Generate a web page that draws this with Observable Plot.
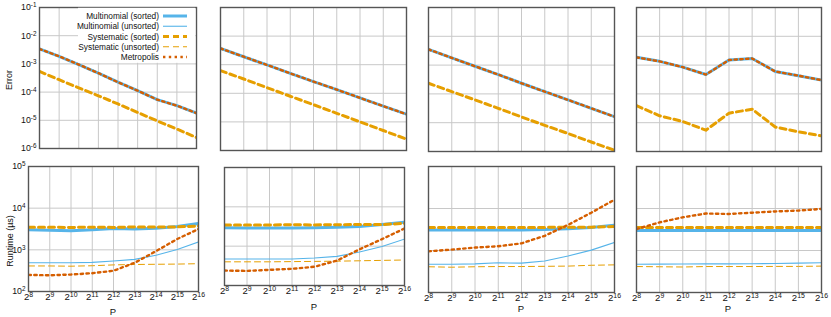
<!DOCTYPE html>
<html><head><meta charset="utf-8">
<script src="https://cdn.jsdelivr.net/npm/d3@7"></script>
<script src="https://cdn.jsdelivr.net/npm/@observablehq/plot@0.6"></script>
<style>
body{margin:0;background:#fff;}
#root{position:relative;width:831px;height:317px;overflow:hidden;font-family:"Liberation Sans",Arial,sans-serif;}
.panel{position:absolute;}
.panel svg{background:transparent;max-width:none;overflow:visible;}
#overlay{position:absolute;left:0;top:0;pointer-events:none;}
</style></head><body><div id="root"></div>
<script>
// ---------- data ----------
const P = [256, 512, 1024, 2048, 4096, 8192, 16384, 32768, 65536];
const xTickLabels = ["2^8","2^9","2^10","2^11","2^12","2^13","2^14","2^15","2^16"];
const seriesNames = ["Multinomial (sorted)","Multinomial (unsorted)","Systematic (sorted)","Systematic (unsorted)","Metropolis"];
const errorTicks = [1e-6, 1e-5, 1e-4, 1e-3, 1e-2, 1e-1];
const errorTickLabels = ["10^-6","10^-5","10^-4","10^-3","10^-2","10^-1"];
const runtimeTicks = [1e2, 1e3, 1e4, 1e5];
const runtimeTickLabels = ["10^2","10^3","10^4","10^5"];

// Error (top row), one array per panel
const errorMultinomial = [
  [3.4e-3, 1.86e-3, 9.5e-4, 4.7e-4, 2.24e-4, 1.12e-4, 5.4e-5, 3.3e-5, 1.8e-5],
  [3.7e-3, 1.9e-3, 9.8e-4, 5.0e-4, 2.57e-4, 1.35e-4, 6.9e-5, 3.55e-5, 1.86e-5],
  [3.5e-3, 1.78e-3, 9.1e-4, 4.7e-4, 2.34e-4, 1.2e-4, 6.2e-5, 3.16e-5, 1.62e-5],
  [1.86e-3, 1.35e-3, 8.5e-4, 4.7e-4, 1.5e-3, 1.7e-3, 6.0e-4, 4.3e-4, 3.0e-4]
];
const errorMetropolis = [
  [3.4e-3, 1.86e-3, 9.5e-4, 4.7e-4, 2.24e-4, 1.12e-4, 5.4e-5, 3.3e-5, 1.8e-5],
  [3.7e-3, 1.9e-3, 9.8e-4, 5.0e-4, 2.57e-4, 1.35e-4, 6.9e-5, 3.55e-5, 1.86e-5],
  [3.5e-3, 1.78e-3, 9.1e-4, 4.7e-4, 2.34e-4, 1.2e-4, 6.2e-5, 3.16e-5, 1.62e-5],
  [1.86e-3, 1.35e-3, 8.5e-4, 4.7e-4, 1.5e-3, 1.7e-3, 6.0e-4, 4.3e-4, 3.0e-4]
];
const errorSystematic = [
  [5.4e-4, 2.75e-4, 1.41e-4, 7.4e-5, 3.8e-5, 1.9e-5, 9.5e-6, 4.9e-6, 2.45e-6],
  [6.2e-4, 3.16e-4, 1.58e-4, 7.9e-5, 4.0e-5, 2.0e-5, 1.0e-5, 5.0e-6, 2.5e-6],
  [2.34e-4, 1.2e-4, 6.2e-5, 3.16e-5, 1.58e-5, 8.1e-6, 4.2e-6, 2.14e-6, 1.1e-6],
  [3.9e-5, 1.74e-5, 1.1e-5, 5.5e-6, 2.14e-5, 2.95e-5, 7.1e-6, 4.8e-6, 3.5e-6]
];

// Runtime in µs (bottom row), one array per panel
const runtimeMultinomialSorted = [
  [3020, 2950, 2880, 3020, 3240, 3160, 3310, 3630, 4270],
  [2950, 2880, 2880, 2880, 2950, 3020, 3160, 3550, 4070],
  [3090, 3090, 3090, 3090, 3090, 3160, 3310, 3550, 3980],
  [3000, 3000, 3000, 3000, 3000, 3000, 3000, 3000, 3000]
];
const runtimeMultinomialUnsorted = [
  [490, 490, 490, 500, 540, 590, 740, 1020, 1550],
  [470, 470, 470, 470, 500, 550, 710, 980, 1510],
  [470, 470, 480, 510, 500, 560, 740, 1020, 1550],
  [470, 475, 478, 480, 480, 485, 490, 500, 510]
];
const runtimeSystematicSorted = [
  [3470, 3470, 3450, 3500, 3450, 3550, 3550, 3550, 3720],
  [3470, 3470, 3470, 3500, 3470, 3500, 3550, 3550, 3800],
  [3550, 3550, 3550, 3550, 3550, 3550, 3600, 3600, 3720],
  [3550, 3550, 3550, 3550, 3550, 3550, 3550, 3550, 3550]
];
const runtimeSystematicUnsorted = [
  [410, 410, 405, 415, 435, 445, 450, 455, 465],
  [400, 400, 400, 405, 410, 415, 425, 435, 445],
  [410, 400, 410, 415, 415, 420, 425, 445, 455],
  [415, 410, 405, 415, 415, 415, 418, 418, 425]
];
const runtimeMetropolis = [
  [250, 245, 255, 275, 315, 490, 930, 1820, 3160],
  [240, 235, 250, 265, 300, 430, 830, 1510, 2820],
  [955, 1050, 1175, 1260, 1480, 2240, 4070, 7940, 16200],
  [3240, 4680, 6170, 7590, 7410, 7940, 8510, 8910, 9770]
];

// ---------- styles & layout ----------
const seriesStyles = [
  {stroke: "#56B4E9", strokeWidth: 3, dash: null},
  {stroke: "#56B4E9", strokeWidth: 1.1, dash: null},
  {stroke: "#E69F00", strokeWidth: 3, dash: "6,4"},
  {stroke: "#E69F00", strokeWidth: 1, dash: "6,4"},
  {stroke: "#D55E00", strokeWidth: 2.4, dash: "2.4,3.4"}
];
const topFrames = [[39,7,196,148],[220,7,406,150],[428,7,614,151],[636,7,821,151]];
const bottomFrames = [[28,166,198,291],[224,167,404,285],[428,166,614,292],[636,166,821,292]];

const root = document.getElementById("root");
const FONT = '"Liberation Sans", Arial, sans-serif';

function superscript(svg) {
  svg.querySelectorAll("text").forEach(t => {
    const s = t.textContent;
    if (!s.includes("^")) return;
    const [base, exp] = s.split("^");
    while (t.firstChild) t.removeChild(t.firstChild);
    t.appendChild(document.createTextNode(base));
    const ts = document.createElementNS("http://www.w3.org/2000/svg", "tspan");
    ts.setAttribute("dy", "-0.45em");
    ts.setAttribute("font-size", "72%");
    ts.textContent = exp;
    t.appendChild(ts);
  });
}

function panel(frame, col, isTop, seriesValues) {
  const [l, t, r, b] = frame;
  const ml = col === 0 ? 36 : 6, mr = 10, mt = 7, mb = isTop ? 6 : 22;
  const yTicks = isTop ? errorTicks : runtimeTicks;
  const yLabels = isTop ? errorTickLabels : runtimeTickLabels;
  const rows = seriesNames.flatMap((name, i) => P.map((p, j) => ({series: name, i, P: p, v: seriesValues[i][j]})));
  const marks = [
    Plot.gridX(P, {stroke: "#c8c8c8", strokeOpacity: 1, strokeWidth: 1}),
    Plot.gridY(yTicks, {stroke: "#c8c8c8", strokeOpacity: 1, strokeWidth: 1}),
    ...seriesNames.map((name, i) => Plot.line(rows.filter(d => d.i === i), {
      x: "P", y: "v", stroke: seriesStyles[i].stroke, strokeWidth: seriesStyles[i].strokeWidth,
      strokeDasharray: seriesStyles[i].dash, strokeLinejoin: "round", clip: true
    })),
    Plot.frame({stroke: "#555", strokeWidth: 1.4})
  ];
  if (col === 0) marks.push(Plot.axisY(yTicks, {tickSize: 0, tickPadding: 3, label: null, fontSize: 8.8,
    tickFormat: d => yLabels[yTicks.indexOf(d)]}));
  if (!isTop) marks.push(Plot.axisX(P, {tickSize: 0, tickPadding: 2, label: null, fontSize: 9.6,
    tickFormat: d => xTickLabels[P.indexOf(d)]}));
  const w = (r - l) + ml + mr, h = (b - t) + mt + mb;
  const svg = Plot.plot({
    width: w, height: h, marginLeft: ml, marginRight: mr, marginTop: mt, marginBottom: mb,
    x: {type: "log", base: 2, domain: [256, 65536], axis: null},
    y: {type: "log", domain: isTop ? [1e-6, 1e-1] : [1e2, 1e5], axis: null},
    style: {fontFamily: FONT, fontSize: "8.5px", background: "transparent", color: "#111", overflow: "visible"},
    marks
  });
  superscript(svg);
  const div = document.createElement("div");
  div.className = "panel";
  div.style.left = (l - ml) + "px";
  div.style.top = (t - mt) + "px";
  div.style.width = w + "px";
  div.style.height = h + "px";
  div.appendChild(svg);
  root.appendChild(div);
}

for (let c = 0; c < 4; c++) {
  panel(topFrames[c], c, true, [errorMultinomial[c], errorMultinomial[c], errorSystematic[c], errorSystematic[c], errorMetropolis[c]]);
  panel(bottomFrames[c], c, false, [runtimeMultinomialSorted[c], runtimeMultinomialUnsorted[c], runtimeSystematicSorted[c], runtimeSystematicUnsorted[c], runtimeMetropolis[c]]);
}

// ---------- overlay: axis titles and legend ----------
const NS = "http://www.w3.org/2000/svg";
const ov = document.createElementNS(NS, "svg");
ov.setAttribute("id", "overlay");
ov.setAttribute("width", 831); ov.setAttribute("height", 317);
ov.setAttribute("font-family", FONT);
function txt(x, y, s, opts = {}) {
  const e = document.createElementNS(NS, "text");
  e.setAttribute("x", x); e.setAttribute("y", y);
  e.setAttribute("font-size", opts.size || 9);
  e.setAttribute("text-anchor", opts.anchor || "middle");
  e.setAttribute("fill", "#111");
  if (opts.rotate) e.setAttribute("transform", `rotate(-90 ${x} ${y})`);
  e.textContent = s;
  ov.appendChild(e);
  return e;
}
txt(12, 80, "Error", {rotate: true});
txt(13, 241, "Runtime (µs)", {rotate: true});
[[113,315],[314,310],[521,312],[728,312]].forEach(([x, y]) => txt(x, y, "P", {size: 9.5}));

// legend inside top-left panel
const bg = document.createElementNS(NS, "rect");
bg.setAttribute("x", 78); bg.setAttribute("y", 7.8); bg.setAttribute("width", 117.2); bg.setAttribute("height", 55);
bg.setAttribute("fill", "#fff");
ov.appendChild(bg);
seriesNames.forEach((name, i) => {
  const y = 16 + i * 10.25;
  txt(159, y + 3, name, {anchor: "end", size: 8.3});
  const ln = document.createElementNS(NS, "line");
  ln.setAttribute("x1", 163); ln.setAttribute("x2", 187);
  ln.setAttribute("y1", y); ln.setAttribute("y2", y);
  ln.setAttribute("stroke", seriesStyles[i].stroke);
  ln.setAttribute("stroke-width", seriesStyles[i].strokeWidth);
  if (seriesStyles[i].dash) ln.setAttribute("stroke-dasharray", seriesStyles[i].dash);
  ov.appendChild(ln);
});
root.appendChild(ov);
</script></body></html>
